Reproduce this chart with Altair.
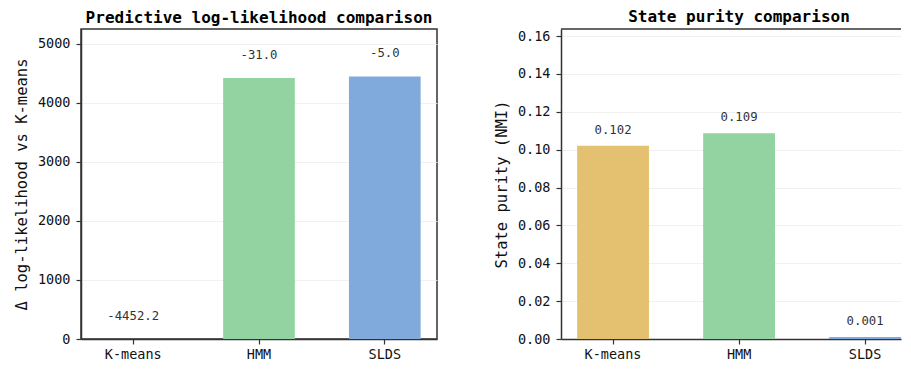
import altair as alt
import pandas as pd

models = ["K-means", "HMM", "SLDS"]
loglik = [-4452.2, -31.0, -5.0]
delta_ll = [0.0, 4421.2, 4447.2]
nmi = [0.102, 0.1087, 0.001]
colors = ["#E3C170", "#92D3A1", "#80AADB"]

df_ll = pd.DataFrame({"model": models, "delta": delta_ll, "ll": loglik,
                      "label": [f"{v:.1f}" for v in loglik]})
df_nmi = pd.DataFrame({"model": models, "nmi": nmi,
                       "label": [f"{v:.3f}" for v in nmi]})

FONT = "DejaVu Sans Mono"
color_scale = alt.Scale(domain=models, range=colors)
W_LEFT, W_RIGHT, H = 356, 340, 310
xscale = alt.Scale(paddingInner=0.43, paddingOuter=0.13)
xscale_r = alt.Scale(paddingInner=0.43, paddingOuter=0.064, align=1)

def xenc(sc):
    return alt.X("model:N", sort=models, scale=sc,
                 axis=alt.Axis(title=None, labelAngle=0, grid=False,
                               labelPadding=3))

base_ll = alt.Chart(df_ll)
bars_ll = base_ll.mark_bar().encode(
    x=xenc(xscale),
    y=alt.Y("delta:Q", scale=alt.Scale(domain=[0, 5250], nice=False),
            axis=alt.Axis(title="Δ log-likelihood vs K-means", format="d",
                          values=[0, 1000, 2000, 3000, 4000, 5000], tickCount=10)),
    color=alt.Color("model:N", scale=color_scale, legend=None),
)
text_ll = base_ll.mark_text(font=FONT, fontSize=12.3, color="#333333",
                            baseline="middle", dy=-23).encode(
    x=alt.X("model:N", sort=models, scale=xscale),
    y="delta:Q",
    text="label:N",
)
left = alt.layer(bars_ll, text_ll).properties(
    width=W_LEFT, height=H,
    title=alt.Title("Predictive log-likelihood comparison"),
)

base_n = alt.Chart(df_nmi)
bars_n = base_n.mark_bar().encode(
    x=xenc(xscale_r),
    y=alt.Y("nmi:Q", scale=alt.Scale(domain=[0, 0.1637], nice=False),
            axis=alt.Axis(title="State purity (NMI)", format=".2f", tickCount=12,
                          values=[0, 0.02, 0.04, 0.06, 0.08, 0.10, 0.12, 0.14, 0.16])),
    color=alt.Color("model:N", scale=color_scale, legend=None),
)
text_n = base_n.mark_text(font=FONT, fontSize=12.3, color="#333333",
                          baseline="middle", dy=-16).encode(
    x=alt.X("model:N", sort=models, scale=xscale_r),
    y="nmi:Q",
    text="label:N",
)
top_rule = alt.Chart(pd.DataFrame({"k": [0]})).mark_rule(
    color="#333333", strokeWidth=1.5).encode(
    x=alt.value(0), x2=alt.value(W_RIGHT), y=alt.value(0))
right = alt.layer(bars_n, text_n, top_rule).properties(
    width=W_RIGHT, height=H,
    title=alt.Title("State purity comparison", dx=8),
    view=alt.ViewBackground(stroke="transparent"),
)

chart = alt.hconcat(left, right, spacing=55).properties(
    padding={"left": 5, "top": 0, "right": 0, "bottom": 0},
).configure(
    font=FONT,
).configure_view(
    stroke="#333333", strokeWidth=1.5,
).configure_axis(
    labelFont=FONT, titleFont=FONT, labelFontSize=13.5, titleFontSize=15.5,
    titleFontWeight="normal", labelColor="#111111", titleColor="#111111",
    domainColor="#333333", domainWidth=1.5, tickColor="#333333", tickWidth=1.2,
    tickSize=5, labelPadding=6, titlePadding=8, labelOverlap=False,
    gridColor="#eeeeee", gridWidth=0.8,
).configure_axisX(
    grid=False,
).configure_title(
    font=FONT, fontSize=16, fontWeight="bold", color="#000000",
    anchor="middle", offset=3,
)

chart.save("out.html", embed_options={"renderer": "svg", "actions": False})
